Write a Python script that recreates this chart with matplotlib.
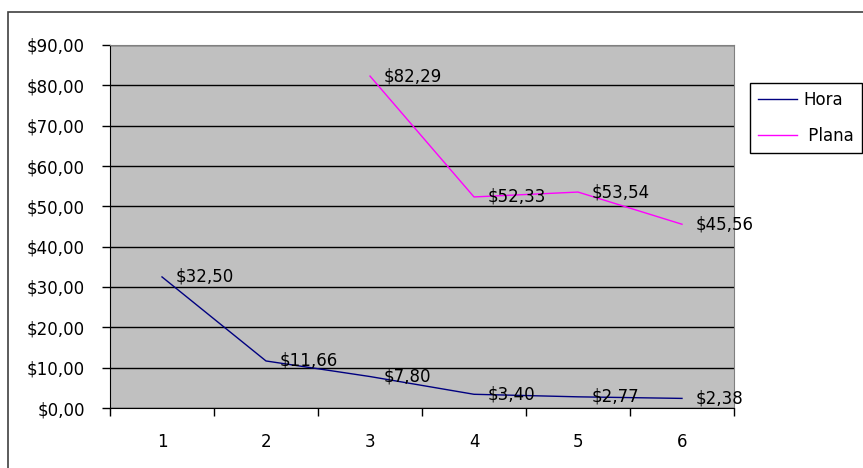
import numpy as np
import matplotlib.pyplot as plt
from matplotlib.patches import Rectangle

plt.rcParams['font.family'] = ['DejaVu Sans']

# data
categories = ['1', '2', '3', '4', '5', '6']
hora = [32.50, 11.66, 7.80, 3.40, 2.77, 2.38]
plana = [np.nan, np.nan, 82.29, 52.33, 53.54, 45.56]
y_ticks = [0, 10, 20, 30, 40, 50, 60, 70, 80, 90]


def money(v):
    return '$' + f'{v:.2f}'.replace('.', ',')


fs = 12
fig = plt.figure(figsize=(8.63, 4.68), dpi=100)
ax = fig.add_axes([110 / 863, 60 / 468, 624 / 863, 363 / 468])
ax.set_facecolor('#c0c0c0')

x = np.arange(len(categories))
ax.plot(x, hora, color='#000080', lw=1.0, label='Hora')
ax.plot(x, plana, color='#ff00ff', lw=1.0, label=' Plana')

# data labels
for xi, v in zip(x, hora):
    ax.annotate(money(v), (xi, v), xytext=(10, 0), textcoords='offset points',
                va='center', ha='left', fontsize=fs)
for xi, v in zip(x, plana):
    if not np.isnan(v):
        ax.annotate(money(v), (xi, v), xytext=(10, 0), textcoords='offset points',
                    va='center', ha='left', fontsize=fs)

ax.set_xlim(-0.5, len(categories) - 0.5)
ax.set_ylim(0, 90)
ax.set_yticks(y_ticks)
ax.set_yticklabels([money(v) for v in y_ticks], fontsize=fs)
ax.yaxis.grid(True, color='black', lw=1.0)
ax.set_axisbelow(True)

ax.set_xticks(x)
ax.set_xticklabels(categories, fontsize=fs)
ax.tick_params(axis='x', which='major', length=0, pad=18)
ax.set_xticks(np.arange(-0.5, len(categories)), minor=True)
ax.tick_params(axis='x', which='minor', length=6, width=1.0, color='black')
ax.tick_params(axis='y', length=6, width=1.0, pad=12)

ax.spines['left'].set_color('black')
ax.spines['bottom'].set_color('black')
ax.spines['top'].set_color('#808080')
ax.spines['right'].set_color('#808080')

leg = fig.legend(loc='upper left', bbox_to_anchor=(750 / 863, 1 - 83 / 468),
                 fancybox=False, edgecolor='black', framealpha=1, fontsize=fs,
                 handlelength=2.3, handletextpad=0.4, labelspacing=1.05,
                 borderpad=0.5, borderaxespad=0)
leg.get_frame().set_linewidth(1.0)

# outer chart border
fig.patches.append(Rectangle((8 / 863, -0.05), 1.2, 1.05 - 12 / 468,
                             transform=fig.transFigure, fill=False,
                             edgecolor='#404040', lw=1.2))

fig.savefig('out.png', dpi=100)
